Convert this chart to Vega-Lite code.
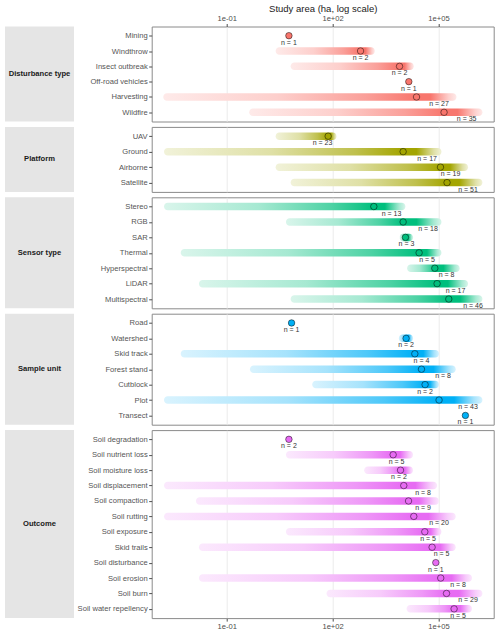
{
"$schema": "https://vega.github.io/schema/vega-lite/v6.json",
"padding": {"left": 5, "right": 5, "top": 2.5, "bottom": 3},
"data": {"values": [
{"g":"Disturbance type","c":"Mining","min":5.8,"med":5.8,"max":5.8,"mean":5.8,"label":"n = 1"},
{"g":"Disturbance type","c":"Windthrow","min":2.44,"med":621,"max":1574,"mean":621,"label":"n = 2"},
{"g":"Disturbance type","c":"Insect outbreak","min":6.5,"med":7890,"max":20000,"mean":7890,"label":"n = 2"},
{"g":"Disturbance type","c":"Off-road vehicles","min":14450,"med":14450,"max":14450,"mean":14450,"label":"n = 1"},
{"g":"Disturbance type","c":"Harvesting","min":0.0016,"med":23900,"max":324000,"mean":104000,"label":"n = 27"},
{"g":"Disturbance type","c":"Wildfire","min":0.436,"med":144000,"max":1760000,"mean":630000,"label":"n = 35"},
{"g":"Platform","c":"UAV","min":2.44,"med":75,"max":130,"mean":52,"label":"n = 23"},
{"g":"Platform","c":"Ground","min":0.00168,"med":9980,"max":122000,"mean":47600,"label":"n = 17"},
{"g":"Platform","c":"Airborne","min":2.44,"med":114000,"max":690000,"mean":220000,"label":"n = 19"},
{"g":"Platform","c":"Satellite","min":6.5,"med":175000,"max":1760000,"mean":690000,"label":"n = 51"},
{"g":"Sensor type","c":"Stereo","min":0.00168,"med":1476,"max":11600,"mean":4680,"label":"n = 13"},
{"g":"Sensor type","c":"RGB","min":4.78,"med":9980,"max":122000,"mean":50800,"label":"n = 18"},
{"g":"Sensor type","c":"SAR","min":8035,"med":11600,"max":19100,"mean":12400,"label":"n = 3"},
{"g":"Sensor type","c":"Thermal","min":0.005,"med":28300,"max":122000,"mean":47600,"label":"n = 5"},
{"g":"Sensor type","c":"Hyperspectral","min":12900,"med":78700,"max":400000,"mean":169000,"label":"n = 8"},
{"g":"Sensor type","c":"LiDAR","min":0.0164,"med":91400,"max":690000,"mean":303000,"label":"n = 17"},
{"g":"Sensor type","c":"Multispectral","min":6.5,"med":196000,"max":1760000,"mean":950000,"label":"n = 46"},
{"g":"Sample unit","c":"Road","min":6.9,"med":6.9,"max":6.9,"mean":6.9,"label":"n = 1"},
{"g":"Sample unit","c":"Watershed","min":7540,"med":12100,"max":19100,"mean":12100,"label":"n = 2"},
{"g":"Sample unit","c":"Skid track","min":0.005,"med":21400,"max":104000,"mean":33000,"label":"n = 4"},
{"g":"Sample unit","c":"Forest stand","min":0.457,"med":33000,"max":309000,"mean":135000,"label":"n = 8"},
{"g":"Sample unit","c":"Cutblock","min":26.5,"med":41800,"max":104000,"mean":41800,"label":"n = 2"},
{"g":"Sample unit","c":"Plot","min":0.00168,"med":104000,"max":1760000,"mean":690000,"label":"n = 43"},
{"g":"Sample unit","c":"Transect","min":580000,"med":580000,"max":580000,"mean":580000,"label":"n = 1"},
{"g":"Outcome","c":"Soil degradation","min":5.8,"med":5.8,"max":5.8,"mean":5.8,"label":"n = 2"},
{"g":"Outcome","c":"Soil nutrient loss","min":4.78,"med":5200,"max":19100,"mean":6490,"label":"n = 5"},
{"g":"Outcome","c":"Soil moisture loss","min":785,"med":8410,"max":19100,"mean":7600,"label":"n = 2"},
{"g":"Outcome","c":"Soil displacement","min":0.00168,"med":10400,"max":91400,"mean":36700,"label":"n = 8"},
{"g":"Outcome","c":"Soil compaction","min":0.0135,"med":14200,"max":104000,"mean":36700,"label":"n = 9"},
{"g":"Outcome","c":"Soil rutting","min":0.00168,"med":20000,"max":309000,"mean":104000,"label":"n = 20"},
{"g":"Outcome","c":"Soil exposure","min":4.78,"med":41000,"max":122000,"mean":50800,"label":"n = 5"},
{"g":"Outcome","c":"Skid trails","min":0.0164,"med":66000,"max":309000,"mean":122000,"label":"n = 5"},
{"g":"Outcome","c":"Soil disturbance","min":84000,"med":84000,"max":84000,"mean":84000,"label":"n = 1"},
{"g":"Outcome","c":"Soil erosion","min":0.0164,"med":116000,"max":895000,"mean":359000,"label":"n = 8"},
{"g":"Outcome","c":"Soil burn","min":67.6,"med":169000,"max":1760000,"mean":690000,"label":"n = 29"},
{"g":"Outcome","c":"Soil water repellency","min":12500,"med":277000,"max":895000,"mean":359000,"label":"n = 5"}
]},
"columns": 2,
"align": "each",
"bounds": "flush",
"spacing": {"row": 5.4, "column": 77.7},
"concat": [
{"width": 69, "height": 95, "view": {"fill": "#e5e5e5", "stroke": null},
 "transform": [{"filter": "datum.g === 'Disturbance type'"}, {"aggregate": [{"op": "count", "as": "k"}], "groupby": ["g"]}],
 "mark": {"type": "text", "fontWeight": "bold", "fontSize": 7.6, "color": "#1a1a1a"},
 "encoding": {"text": {"field": "g", "type": "nominal"}}},
{"width": 342, "height": 95,
 "transform": [{"filter": "datum.g === 'Disturbance type'"}],
 "encoding": {"y": {"field": "c", "type": "nominal", "sort": null, "scale": {"type": "point", "padding": 0.6}, "axis": {"title": null, "grid": false, "labelColor": "#555555"}}},
 "layer": [
  {"mark": {"type": "bar", "height": 7.5, "cornerRadiusTopLeft": 3.75, "cornerRadiusBottomLeft": 3.75, "fill": {"gradient": "linear", "x1": 0, "y1": 0, "x2": 1, "y2": 0, "stops": [{"offset": 0, "color": "#FEEAE9"}, {"offset": 0.45, "color": "#FDCFCC"}, {"offset": 0.8, "color": "#FA9F99"}, {"offset": 1, "color": "#F8766D"}]}},
   "encoding": {"x": {"field": "min", "type": "quantitative", "title": "Study area (ha, log scale)", "scale": {"type": "log", "domain": [0.000753, 3670000], "nice": false, "zero": false}, "axis": {"orient": "top", "values": [0.1, 100, 100000], "labelExpr": "datum.value < 1 ? '1e-01' : datum.value < 1000 ? '1e+02' : '1e+05'", "title": "Study area (ha, log scale)", "grid": true, "titlePadding": 1}}, "x2": {"field": "med"}}},
  {"mark": {"type": "bar", "height": 7.5, "cornerRadiusTopRight": 3.75, "cornerRadiusBottomRight": 3.75, "fill": {"gradient": "linear", "x1": 0, "y1": 0, "x2": 1, "y2": 0, "stops": [{"offset": 0, "color": "#F8766D"}, {"offset": 0.35, "color": "#F8766D"}, {"offset": 0.8, "color": "#FDCFCC"}, {"offset": 1, "color": "#FEEAE9"}]}},
   "encoding": {"x": {"field": "med", "type": "quantitative", "title": "Study area (ha, log scale)"}, "x2": {"field": "max"}}},
  {"mark": {"type": "point", "filled": true, "size": 42, "fill": "#F8766D", "stroke": "#000", "strokeOpacity": 0.6, "strokeWidth": 0.8, "opacity": 1},
   "encoding": {"x": {"field": "med", "type": "quantitative", "title": "Study area (ha, log scale)"}}},
  {"mark": {"type": "text", "dy": 7, "fontSize": 7, "color": "#333", "clip": true, "baseline": "middle"},
   "encoding": {"x": {"field": "mean", "type": "quantitative", "title": "Study area (ha, log scale)"}, "text": {"field": "label", "type": "nominal"}}}
 ]},
{"width": 69, "height": 65, "view": {"fill": "#e5e5e5", "stroke": null},
 "transform": [{"filter": "datum.g === 'Platform'"}, {"aggregate": [{"op": "count", "as": "k"}], "groupby": ["g"]}],
 "mark": {"type": "text", "fontWeight": "bold", "fontSize": 7.6, "color": "#1a1a1a"},
 "encoding": {"text": {"field": "g", "type": "nominal"}}},
{"width": 342, "height": 65,
 "transform": [{"filter": "datum.g === 'Platform'"}],
 "encoding": {"y": {"field": "c", "type": "nominal", "sort": null, "scale": {"type": "point", "padding": 0.6}, "axis": {"title": null, "grid": false, "labelColor": "#555555"}}},
 "layer": [
  {"mark": {"type": "bar", "height": 7.5, "cornerRadiusTopLeft": 3.75, "cornerRadiusBottomLeft": 3.75, "fill": {"gradient": "linear", "x1": 0, "y1": 0, "x2": 1, "y2": 0, "stops": [{"offset": 0, "color": "#F1F2D9"}, {"offset": 0.45, "color": "#DFE0A6"}, {"offset": 0.8, "color": "#BFC04D"}, {"offset": 1, "color": "#A3A500"}]}},
   "encoding": {"x": {"field": "min", "type": "quantitative", "scale": {"type": "log", "domain": [0.000753, 3670000], "nice": false, "zero": false}, "axis": {"values": [0.1, 100, 100000], "labels": false, "ticks": false, "title": null, "grid": true}}, "x2": {"field": "med"}}},
  {"mark": {"type": "bar", "height": 7.5, "cornerRadiusTopRight": 3.75, "cornerRadiusBottomRight": 3.75, "fill": {"gradient": "linear", "x1": 0, "y1": 0, "x2": 1, "y2": 0, "stops": [{"offset": 0, "color": "#A3A500"}, {"offset": 0.35, "color": "#A3A500"}, {"offset": 0.8, "color": "#DFE0A6"}, {"offset": 1, "color": "#F1F2D9"}]}},
   "encoding": {"x": {"field": "med", "type": "quantitative", "title": null}, "x2": {"field": "max"}}},
  {"mark": {"type": "point", "filled": true, "size": 42, "fill": "#A3A500", "stroke": "#000", "strokeOpacity": 0.6, "strokeWidth": 0.8, "opacity": 1},
   "encoding": {"x": {"field": "med", "type": "quantitative", "title": null}}},
  {"mark": {"type": "text", "dy": 7, "fontSize": 7, "color": "#333", "clip": true, "baseline": "middle"},
   "encoding": {"x": {"field": "mean", "type": "quantitative", "title": null}, "text": {"field": "label", "type": "nominal"}}}
 ]},
{"width": 69, "height": 111, "view": {"fill": "#e5e5e5", "stroke": null},
 "transform": [{"filter": "datum.g === 'Sensor type'"}, {"aggregate": [{"op": "count", "as": "k"}], "groupby": ["g"]}],
 "mark": {"type": "text", "fontWeight": "bold", "fontSize": 7.6, "color": "#1a1a1a"},
 "encoding": {"text": {"field": "g", "type": "nominal"}}},
{"width": 342, "height": 111,
 "transform": [{"filter": "datum.g === 'Sensor type'"}],
 "encoding": {"y": {"field": "c", "type": "nominal", "sort": null, "scale": {"type": "point", "padding": 0.6}, "axis": {"title": null, "grid": false, "labelColor": "#555555"}}},
 "layer": [
  {"mark": {"type": "bar", "height": 7.5, "cornerRadiusTopLeft": 3.75, "cornerRadiusBottomLeft": 3.75, "fill": {"gradient": "linear", "x1": 0, "y1": 0, "x2": 1, "y2": 0, "stops": [{"offset": 0, "color": "#D9F5EB"}, {"offset": 0.45, "color": "#A6E9D2"}, {"offset": 0.8, "color": "#4DD2A4"}, {"offset": 1, "color": "#00BF7D"}]}},
   "encoding": {"x": {"field": "min", "type": "quantitative", "scale": {"type": "log", "domain": [0.000753, 3670000], "nice": false, "zero": false}, "axis": {"values": [0.1, 100, 100000], "labels": false, "ticks": false, "title": null, "grid": true}}, "x2": {"field": "med"}}},
  {"mark": {"type": "bar", "height": 7.5, "cornerRadiusTopRight": 3.75, "cornerRadiusBottomRight": 3.75, "fill": {"gradient": "linear", "x1": 0, "y1": 0, "x2": 1, "y2": 0, "stops": [{"offset": 0, "color": "#00BF7D"}, {"offset": 0.35, "color": "#00BF7D"}, {"offset": 0.8, "color": "#A6E9D2"}, {"offset": 1, "color": "#D9F5EB"}]}},
   "encoding": {"x": {"field": "med", "type": "quantitative", "title": null}, "x2": {"field": "max"}}},
  {"mark": {"type": "point", "filled": true, "size": 42, "fill": "#00BF7D", "stroke": "#000", "strokeOpacity": 0.6, "strokeWidth": 0.8, "opacity": 1},
   "encoding": {"x": {"field": "med", "type": "quantitative", "title": null}}},
  {"mark": {"type": "text", "dy": 7, "fontSize": 7, "color": "#333", "clip": true, "baseline": "middle"},
   "encoding": {"x": {"field": "mean", "type": "quantitative", "title": null}, "text": {"field": "label", "type": "nominal"}}}
 ]},
{"width": 69, "height": 111, "view": {"fill": "#e5e5e5", "stroke": null},
 "transform": [{"filter": "datum.g === 'Sample unit'"}, {"aggregate": [{"op": "count", "as": "k"}], "groupby": ["g"]}],
 "mark": {"type": "text", "fontWeight": "bold", "fontSize": 7.6, "color": "#1a1a1a"},
 "encoding": {"text": {"field": "g", "type": "nominal"}}},
{"width": 342, "height": 111,
 "transform": [{"filter": "datum.g === 'Sample unit'"}],
 "encoding": {"y": {"field": "c", "type": "nominal", "sort": null, "scale": {"type": "point", "padding": 0.6}, "axis": {"title": null, "grid": false, "labelColor": "#555555"}}},
 "layer": [
  {"mark": {"type": "bar", "height": 7.5, "cornerRadiusTopLeft": 3.75, "cornerRadiusBottomLeft": 3.75, "fill": {"gradient": "linear", "x1": 0, "y1": 0, "x2": 1, "y2": 0, "stops": [{"offset": 0, "color": "#D9F3FE"}, {"offset": 0.45, "color": "#A6E3FC"}, {"offset": 0.8, "color": "#4DC8F9"}, {"offset": 1, "color": "#00B0F6"}]}},
   "encoding": {"x": {"field": "min", "type": "quantitative", "scale": {"type": "log", "domain": [0.000753, 3670000], "nice": false, "zero": false}, "axis": {"values": [0.1, 100, 100000], "labels": false, "ticks": false, "title": null, "grid": true}}, "x2": {"field": "med"}}},
  {"mark": {"type": "bar", "height": 7.5, "cornerRadiusTopRight": 3.75, "cornerRadiusBottomRight": 3.75, "fill": {"gradient": "linear", "x1": 0, "y1": 0, "x2": 1, "y2": 0, "stops": [{"offset": 0, "color": "#00B0F6"}, {"offset": 0.35, "color": "#00B0F6"}, {"offset": 0.8, "color": "#A6E3FC"}, {"offset": 1, "color": "#D9F3FE"}]}},
   "encoding": {"x": {"field": "med", "type": "quantitative", "title": null}, "x2": {"field": "max"}}},
  {"mark": {"type": "point", "filled": true, "size": 42, "fill": "#00B0F6", "stroke": "#000", "strokeOpacity": 0.6, "strokeWidth": 0.8, "opacity": 1},
   "encoding": {"x": {"field": "med", "type": "quantitative", "title": null}}},
  {"mark": {"type": "text", "dy": 7, "fontSize": 7, "color": "#333", "clip": true, "baseline": "middle"},
   "encoding": {"x": {"field": "mean", "type": "quantitative", "title": null}, "text": {"field": "label", "type": "nominal"}}}
 ]},
{"width": 69, "height": 188, "view": {"fill": "#e5e5e5", "stroke": null},
 "transform": [{"filter": "datum.g === 'Outcome'"}, {"aggregate": [{"op": "count", "as": "k"}], "groupby": ["g"]}],
 "mark": {"type": "text", "fontWeight": "bold", "fontSize": 7.6, "color": "#1a1a1a"},
 "encoding": {"text": {"field": "g", "type": "nominal"}}},
{"width": 342, "height": 188,
 "transform": [{"filter": "datum.g === 'Outcome'"}],
 "encoding": {"y": {"field": "c", "type": "nominal", "sort": null, "scale": {"type": "point", "padding": 0.6}, "axis": {"title": null, "grid": false, "labelColor": "#555555"}}},
 "layer": [
  {"mark": {"type": "bar", "height": 7.5, "cornerRadiusTopLeft": 3.75, "cornerRadiusBottomLeft": 3.75, "fill": {"gradient": "linear", "x1": 0, "y1": 0, "x2": 1, "y2": 0, "stops": [{"offset": 0, "color": "#FBE9FD"}, {"offset": 0.45, "color": "#F7CBFB"}, {"offset": 0.8, "color": "#EE97F7"}, {"offset": 1, "color": "#E76BF3"}]}},
   "encoding": {"x": {"field": "min", "type": "quantitative", "scale": {"type": "log", "domain": [0.000753, 3670000], "nice": false, "zero": false}, "axis": {"orient": "bottom", "values": [0.1, 100, 100000], "labelExpr": "datum.value < 1 ? '1e-01' : datum.value < 1000 ? '1e+02' : '1e+05'", "title": null, "grid": true}}, "x2": {"field": "med"}}},
  {"mark": {"type": "bar", "height": 7.5, "cornerRadiusTopRight": 3.75, "cornerRadiusBottomRight": 3.75, "fill": {"gradient": "linear", "x1": 0, "y1": 0, "x2": 1, "y2": 0, "stops": [{"offset": 0, "color": "#E76BF3"}, {"offset": 0.35, "color": "#E76BF3"}, {"offset": 0.8, "color": "#F7CBFB"}, {"offset": 1, "color": "#FBE9FD"}]}},
   "encoding": {"x": {"field": "med", "type": "quantitative", "title": null}, "x2": {"field": "max"}}},
  {"mark": {"type": "point", "filled": true, "size": 42, "fill": "#E76BF3", "stroke": "#000", "strokeOpacity": 0.6, "strokeWidth": 0.8, "opacity": 1},
   "encoding": {"x": {"field": "med", "type": "quantitative", "title": null}}},
  {"mark": {"type": "text", "dy": 7, "fontSize": 7, "color": "#333", "clip": true, "baseline": "middle"},
   "encoding": {"x": {"field": "mean", "type": "quantitative", "title": null}, "text": {"field": "label", "type": "nominal"}}}
 ]}
],
"config": {
 "font": "Liberation Sans",
 "view": {"stroke": "#8a8a8a", "strokeWidth": 1},
 "axis": {"gridColor": "#e6e6e6", "gridWidth": 0.8, "labelColor": "#4d4d4d", "labelFontSize": 7.6, "tickColor": "#4d4d4d", "tickSize": 3, "labelPadding": 1.5, "domain": false, "titleFontWeight": "normal", "titleFontSize": 9.5, "titleColor": "#1a1a1a"}
}
}
